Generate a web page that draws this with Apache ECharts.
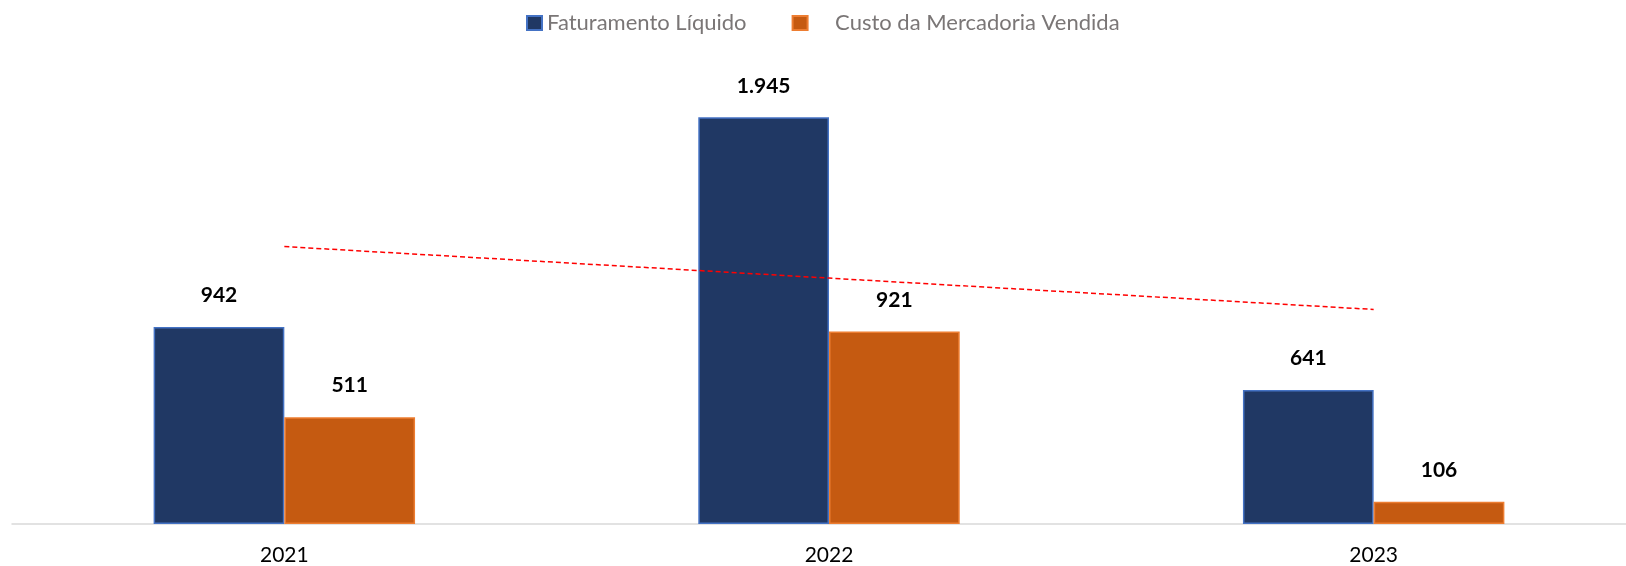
<!DOCTYPE html>
<html>
<head>
<meta charset="utf-8">
<title>Faturamento x CMV</title>
<script src="https://cdn.jsdelivr.net/npm/echarts@6/dist/echarts.min.js"></script>
<style>
  html, body { margin: 0; padding: 0; background: #fff; }
  #chart { width: 1626px; height: 566px; }
</style>
</head>
<body>
<div id="chart"></div>
<script>
const anos = ['2021', '2022', '2023'];
const faturamento = [942, 1945, 641];
const custo = [511, 921, 106];
// linha de tendência
const tendencia = [1327, 1176, 1026];

const fonte = 'Lato, "Noto Sans", sans-serif';
const fmt = v => v.toLocaleString('pt-BR');

const chart = echarts.init(document.getElementById('chart'));
chart.setOption({
  animation: false,
  textStyle: { fontFamily: fonte },
  legend: {
    data: ['Faturamento Líquido', 'Custo da Mercadoria Vendida'],
    top: 12,
    left: 526,
    padding: 0,
    itemWidth: 15,
    itemHeight: 14,
    itemGap: 45,
    icon: 'rect',
    textStyle: { color: '#7a7676', fontSize: 22, fontFamily: fonte },
    formatter: name => name === 'Custo da Mercadoria Vendida' ? '    ' + name : name
  },
  grid: { left: 12, width: 1634, top: 64, bottom: 42, outerBoundsMode: 'none' },
  xAxis: {
    type: 'category',
    data: anos,
    axisLine: { lineStyle: { color: '#D9D9D9', width: 1.5 } },
    axisTick: { show: false },
    axisLabel: { color: '#000', fontSize: 21, margin: 21, fontFamily: fonte }
  },
  yAxis: {
    type: 'value',
    min: 0,
    max: 2200,
    show: false,
    splitLine: { show: false }
  },
  series: [
    {
      name: 'Faturamento Líquido',
      type: 'bar',
      data: faturamento,
      barGap: '0%',
      barCategoryGap: '52%',
      itemStyle: { color: '#203864', borderColor: '#4472C4', borderWidth: 1.5 },
      label: {
        show: true,
        position: 'top',
        distance: 21,
        color: '#000',
        fontWeight: 'bold',
        fontSize: 21,
        fontFamily: fonte,
        formatter: p => fmt(p.value)
      }
    },
    {
      name: 'Custo da Mercadoria Vendida',
      type: 'bar',
      data: custo,
      itemStyle: { color: '#C55A11', borderColor: '#ED7D31', borderWidth: 1.5 },
      label: {
        show: true,
        position: 'top',
        distance: 21,
        color: '#000',
        fontWeight: 'bold',
        fontSize: 21,
        fontFamily: fonte,
        formatter: p => fmt(p.value)
      }
    },
    {
      name: 'Tendência',
      type: 'line',
      data: tendencia,
      symbol: 'none',
      silent: true,
      z: 5,
      lineStyle: { color: '#FF0000', width: 1.5, type: [5, 3] }
    }
  ]
});
</script>
</body>
</html>
